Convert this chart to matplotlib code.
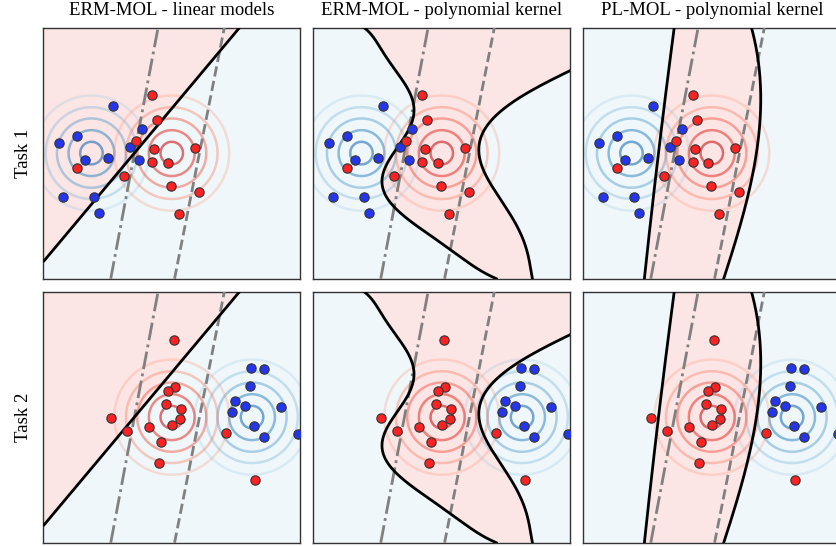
import numpy as np
import matplotlib
matplotlib.use("Agg")
import matplotlib.pyplot as plt

plt.rcParams["font.family"] = ["Liberation Serif", "DejaVu Serif"]

XLIM = (-3.2, 3.2)
YLIM = (-3.12, 3.12)

col_titles = ["ERM-MOL - linear models", "ERM-MOL - polynomial kernel",
              "PL-MOL - polynomial kernel"]
row_labels = ["Task 1", "Task 2"]

# gaussian class centres per task
red_centres = [(0.0, 0.0), (0.0, 0.0)]
blue_centres = [(-2.0, 0.0), (2.0, 0.0)]
ring_radii = [0.28, 0.57, 0.86, 1.14, 1.43]

# task 1 samples
t1_blue_x = [-1.47, -2.37, -2.80, -2.16, -1.60, -0.74, -1.05, -0.81, -2.72, -1.94, -1.81]
t1_blue_y = [1.17, 0.42, 0.24, -0.18, -0.11, 0.60, 0.16, -0.18, -1.10, -1.10, -1.50]
t1_red_x = [-0.48, -0.37, -0.90, -0.43, 0.59, -0.48, -0.09, -2.35, -1.19, -0.01, 0.67, 0.17]
t1_red_y = [1.45, 0.83, 0.30, 0.09, 0.13, -0.23, -0.24, -0.36, -0.56, -0.82, -0.96, -1.52]

# task 2 samples
t2_red_x = [0.05, 0.08, -0.09, -0.14, 0.24, 0.20, 0.00, -1.52, -1.12, -0.56, -0.27, -0.31, 1.35, 2.07]
t2_red_y = [1.91, 0.76, 0.65, 0.32, 0.20, -0.05, -0.19, -0.02, -0.34, -0.25, -0.62, -1.14, -0.39, -1.56]
t2_blue_x = [1.97, 2.29, 1.94, 1.57, 1.82, 1.51, 2.72, 2.06, 2.29, 3.15]
t2_blue_y = [1.21, 1.19, 0.78, 0.40, 0.28, 0.14, 0.25, -0.23, -0.50, -0.41]

samples = [
    (t1_red_x, t1_red_y, t1_blue_x, t1_blue_y),
    (t2_red_x, t2_red_y, t2_blue_x, t2_blue_y),
]

# linear model (shared): red side is y > slope*x + icpt
lin_slope = 1.19
lin_icpt = 1.108

# reference lines (x at y=0, slope)
ref_dashdot = (-0.93, 5.29)
ref_dashed = (0.69, 5.03)

# polynomial kernel boundaries, x as function of y
erm_left_x = [-1.937, -1.539, -1.133, -0.834, -0.735, -0.710, -0.784, -0.959, -1.208, -1.457,
              -1.507, -1.407, -1.133, -0.710, -0.286, 0.037, 0.461, 0.959, 1.332]
erm_left_y = [3.12, 2.623, 2.051, 1.554, 1.131, 0.883, 0.559, 0.261, 0.062, -0.360,
              -0.684, -1.007, -1.355, -1.728, -2.051, -2.300, -2.598, -2.872, -3.12]
erm_right_x = [3.2, 2.453, 1.781, 1.282, 1.033, 0.934, 0.934, 1.033, 1.282, 1.631, 1.955, 2.154, 2.254]
erm_right_y = [2.051, 1.678, 1.255, 0.883, 0.559, 0.211, -0.112, -0.360, -0.858, -1.430, -2.001, -2.498, -3.12]

pl_left_x = [-0.959, -1.041, -1.166, -1.333, -1.500, -1.664]
pl_left_y = [3.12, 2.143, 1.064, 0.037, -1.174, -3.12]
pl_right_x = [0.991, 1.115, 1.200, 1.215, 1.158, 1.033, 0.784, 0.535, 0.304]
pl_right_y = [3.12, 2.556, 1.728, 1.064, 0.318, -0.510, -1.504, -2.332, -3.12]

PINK = "#fce5e5"
BLUE = "#eff7fa"
RED_PT = "#fa2222"
BLUE_PT = "#2535ea"

fig = plt.figure(figsize=(8.37, 5.46), dpi=100)
lefts = [0.0517, 0.3743, 0.6969]
bottoms = [0.4896, 0.006]
W, H = 0.307, 0.460

yy = np.linspace(YLIM[0], YLIM[1], 500)
gx, gy = np.meshgrid(np.linspace(XLIM[0], XLIM[1], 400), np.linspace(YLIM[0], YLIM[1], 400))


def fitx(xs, ys, deg):
    return np.polynomial.Polynomial.fit(ys, xs, deg)


ring_alpha = [0.6, 0.55, 0.45, 0.35, 0.25]

for r in range(2):
    for c in range(3):
        ax = fig.add_axes([lefts[c], bottoms[r], W, H])
        ax.set_xlim(XLIM)
        ax.set_ylim(YLIM)
        ax.set_xticks([])
        ax.set_yticks([])
        for sp in ax.spines.values():
            sp.set_color("#333333")
            sp.set_linewidth(1.0)
        ax.set_facecolor(BLUE)

        # decision regions
        if c == 0:
            z = gy - (lin_slope * gx + lin_icpt)
            ax.contourf(gx, gy, z, levels=[-100, 0, 100], colors=[BLUE, PINK], zorder=0)
            ax.contour(gx, gy, z, levels=[0], colors="k", linewidths=2.0, zorder=4)
        elif c == 1:
            lp = fitx(erm_left_x, erm_left_y, 7)
            rp = fitx(erm_right_x, erm_right_y, 5)
            ymax_r = max(erm_right_y)
            rx = np.where(yy > ymax_r, 50, rp(yy))
            ax.fill_betweenx(yy, lp(yy), rx, color=PINK, lw=0, zorder=0)
            ax.plot(lp(yy), yy, color="k", lw=2.0, zorder=4)
            m = yy <= ymax_r + 0.05
            ax.plot(rp(yy[m]), yy[m], color="k", lw=2.0, zorder=4)
        else:
            lp = fitx(pl_left_x, pl_left_y, 2)
            rp = fitx(pl_right_x, pl_right_y, 3)
            ax.fill_betweenx(yy, lp(yy), rp(yy), color=PINK, lw=0, zorder=0)
            ax.plot(lp(yy), yy, color="k", lw=2.0, zorder=4)
            ax.plot(rp(yy), yy, color="k", lw=2.0, zorder=4)

        # class density rings
        for cen, cmap in ((blue_centres[r], plt.cm.Blues), (red_centres[r], plt.cm.Reds)):
            dist = np.hypot(gx - cen[0], gy - cen[1])
            cols = cmap(np.linspace(0.75, 0.4, len(ring_radii)))
            for lev, col, a in zip(ring_radii, cols, ring_alpha):
                ax.contour(gx, gy, dist, levels=[lev], colors=[col],
                           linewidths=1.8, alpha=a, zorder=1)

        # reference lines
        ax.axline((ref_dashdot[0], 0), slope=ref_dashdot[1], color="gray",
                  ls="-.", lw=2.0, zorder=3)
        ax.axline((ref_dashed[0], 0), slope=ref_dashed[1], color="gray",
                  ls="--", lw=2.0, zorder=3)

        rx_, ry_, bx_, by_ = samples[r]
        ax.scatter(bx_, by_, s=45, color=BLUE_PT, edgecolor="#333333", lw=0.8, zorder=5)
        ax.scatter(rx_, ry_, s=45, color=RED_PT, edgecolor="#333333", lw=0.8, zorder=5)

        if r == 0:
            ax.set_title(col_titles[c], fontsize=13.5, pad=9)
        if c == 0:
            ax.set_ylabel(row_labels[r], fontsize=13.5, labelpad=8)

fig.savefig("out.png", dpi=100)
